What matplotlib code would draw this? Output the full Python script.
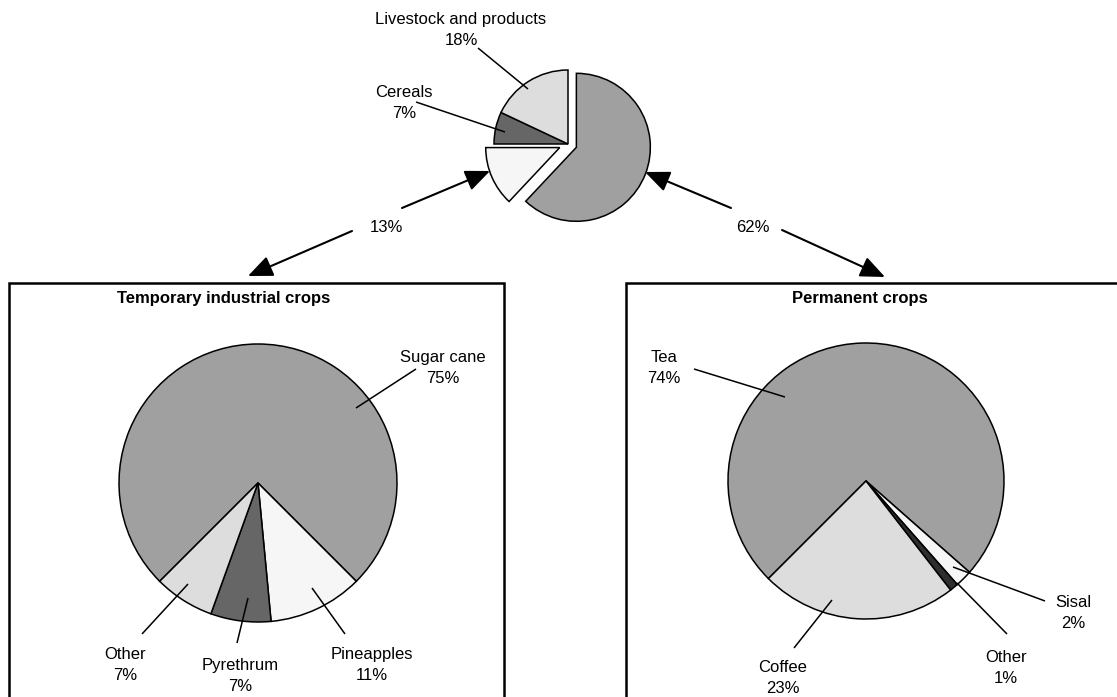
import matplotlib
matplotlib.use("Agg")
import matplotlib.pyplot as plt
from matplotlib.patches import Rectangle

plt.rcParams["font.family"] = ["Liberation Sans", "DejaVu Sans"]

# ---- data -------------------------------------------------------------
overview_labels = ["Permanent crops", "Temporary industrial crops", "Cereals", "Livestock and products"]
overview_shares = [62, 13, 7, 18]

temporary_labels = ["Sugar cane", "Pineapples", "Pyrethrum", "Other"]
temporary_shares = [75, 11, 7, 7]

permanent_labels = ["Tea", "Sisal", "Other", "Coffee"]
permanent_shares = [74, 2, 1, 23]

# ---- figure in pixel coordinates (y measured from the top) -------------
W, H = 1117, 697
fig = plt.figure(figsize=(W / 100, H / 100), dpi=100)
ax = fig.add_axes([0, 0, 1, 1])


def Y(y):
    return H - y


FS = 12
GRAY = "#a0a0a0"
LIGHT = "#dddddd"
WHITE = "#f6f6f6"
DARK = "#666666"
BLACK = "#2e2e2e"
wedge_style = dict(edgecolor="black", linewidth=1.1)

# overview pie: the two sub-groups are pulled out of the pie (offset in px)
ax.pie(overview_shares, colors=[GRAY, WHITE, DARK, LIGHT], startangle=90,
       counterclock=False, radius=74, center=(568, Y(144)),
       explode=[9, 9, 0, 0], wedgeprops=wedge_style, frame=True)

# temporary industrial crops
ax.pie(temporary_shares, colors=[GRAY, WHITE, DARK, LIGHT], startangle=225,
       counterclock=False, radius=139, center=(258, Y(483)),
       wedgeprops=wedge_style, frame=True)

# permanent crops
ax.pie(permanent_shares, colors=[GRAY, WHITE, BLACK, LIGHT], startangle=225,
       counterclock=False, radius=138, center=(866, Y(481)),
       wedgeprops=wedge_style, frame=True)

ax.set_xlim(0, W)
ax.set_ylim(0, H)
ax.set_aspect("auto")
ax.axis("off")

# frames around the two breakdowns
for x0, x1 in [(9, 504), (626, 1130)]:
    ax.add_patch(Rectangle((x0, Y(720)), x1 - x0, 720 - 283, fill=False,
                           edgecolor="black", linewidth=1.8, clip_on=False))

ax.text(224, Y(298), "Temporary industrial crops", ha="center", va="center",
        fontsize=FS, fontweight="bold")
ax.text(860, Y(298), "Permanent crops", ha="center", va="center",
        fontsize=FS, fontweight="bold")


def label(name, share, tx, ty, lx0, ly0, lx1, ly1):
    ax.text(tx, Y(ty), f"{name}\n{share}%", ha="center", va="center",
            fontsize=FS, linespacing=1.5)
    ax.plot([lx0, lx1], [Y(ly0), Y(ly1)], color="black", lw=1.1,
            solid_capstyle="butt")


# overview labels
label(overview_labels[3], overview_shares[3], 461, 30, 478, 48, 528, 89)
label(overview_labels[2], overview_shares[2], 404, 103, 416, 102, 505, 132)

# temporary crops labels
label(temporary_labels[0], temporary_shares[0], 443, 368, 416, 369, 356, 408)
label(temporary_labels[1], temporary_shares[1], 372, 665, 345, 634, 312, 588)
label(temporary_labels[2], temporary_shares[2], 240, 676, 237, 643, 248, 598)
label(temporary_labels[3], temporary_shares[3], 125, 665, 142, 634, 188, 584)

# permanent crops labels
label(permanent_labels[0], permanent_shares[0], 664, 368, 694, 369, 785, 397)
label(permanent_labels[1], permanent_shares[1], 1073, 613, 1045, 601, 953, 567)
label(permanent_labels[2], permanent_shares[2], 1006, 668, 1007, 634, 957, 583)
label(permanent_labels[3], permanent_shares[3], 783, 678, 794, 648, 832, 600)

# arrows linking the overview slices to their breakdowns
arrow = dict(arrowstyle="-|>,head_length=0.75,head_width=0.32", color="black",
             lw=1.5, mutation_scale=20, shrinkA=0, shrinkB=0)


def link(text, tx, ty, up_from, up_to, down_from, down_to):
    ax.text(tx, Y(ty), text, ha="center", va="center", fontsize=FS)
    ax.annotate("", xy=(up_to[0], Y(up_to[1])),
                xytext=(up_from[0], Y(up_from[1])), arrowprops=arrow)
    ax.annotate("", xy=(down_to[0], Y(down_to[1])),
                xytext=(down_from[0], Y(down_from[1])), arrowprops=arrow)


link(f"{overview_shares[1]}%", 386, 227, (402, 208), (490, 171), (352, 231), (248, 276))
link(f"{overview_shares[0]}%", 753, 227, (731, 208), (645, 172), (782, 230), (885, 277))

fig.savefig("out.png", dpi=100)
